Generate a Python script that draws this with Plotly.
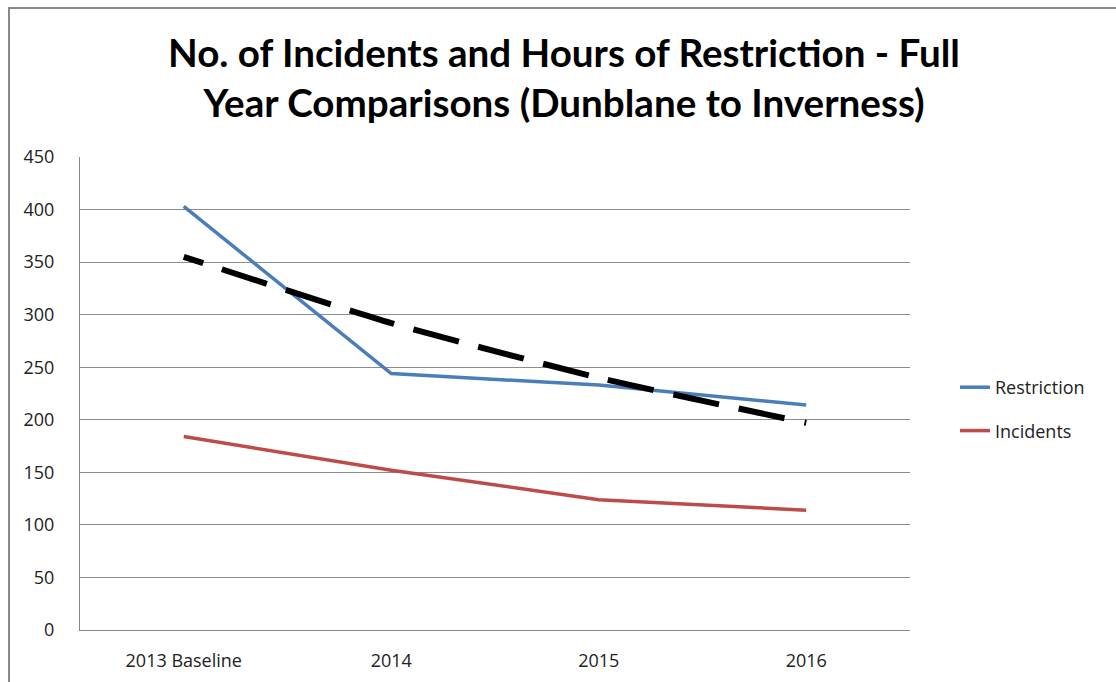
import plotly.graph_objects as go

categories = ["2013 Baseline", "2014", "2015", "2016"]
restriction = [403, 244, 233, 214]
incidents = [184, 152, 124, 114]
trend_restriction = [355, 292, 240, 197]
y_ticks = [0, 50, 100, 150, 200, 250, 300, 350, 400, 450]

W, H = 1116, 682
L, R, T, B = 80, 206, 157, 52
pw, ph = W - L - R, H - T - B

def px_x(p):
    return (p - L) / pw

def px_y(p):
    return (H - B - p) / ph

title_font = "Lato, sans-serif"
body_font = "'Open Sans', 'Noto Sans', sans-serif"

fig = go.Figure()

dash_list = ["20px", "20px"] + ["47px", "20px"] * 9 + ["3px", "40px"]
fig.add_trace(go.Scatter(
    x=categories, y=restriction, name="Restriction", mode="lines",
    line=dict(color="#4A7EBB", width=3.5), legendgroup="a",
))
fig.add_trace(go.Scatter(
    x=categories, y=incidents, name="Incidents", mode="lines",
    line=dict(color="#BE4B48", width=3.5), legendgroup="b",
))
fig.add_trace(go.Scatter(
    x=categories, y=trend_restriction, name="Expon. (Restriction)", mode="lines",
    line=dict(color="#000000", width=6, dash=",".join(dash_list), shape="spline", smoothing=0.6),
    showlegend=False,
))

fig.update_layout(
    width=W, height=H,
    margin=dict(l=L, r=R, t=T, b=B, autoexpand=False),
    paper_bgcolor="white", plot_bgcolor="white",
    title=dict(
        text="<b>No. of Incidents and Hours of Restriction - Full<br>Year Comparisons (Dunblane to Inverness)</b>",
        x=px_x(564), xref="paper", xanchor="center",
        y=1 - 67 / H, yref="container", yanchor="middle",
        font=dict(family=title_font, size=38.6, color="#000000"),
    ),
    showlegend=True,
    legend=dict(
        x=px_x(955), y=px_y(409), xanchor="left", yanchor="middle",
        font=dict(family=body_font, size=18, color="#222222"),
        bgcolor="rgba(0,0,0,0)", tracegroupgap=17, itemwidth=30,
    ),
    xaxis=dict(
        type="category", categoryorder="array", categoryarray=categories,
        range=[-0.5, 3.5], showgrid=False, showline=True, linecolor="#868686", linewidth=1,
        ticks="", tickfont=dict(family=body_font, size=18, color="#222222"),
        ticklabelstandoff=14, zeroline=False,
    ),
    yaxis=dict(
        range=[0, 450], tickvals=y_ticks, showgrid=True, gridcolor="#8C8C8C", gridwidth=1,
        showline=True, linecolor="#868686", linewidth=1, ticks="", zeroline=False,
        tickfont=dict(family=body_font, size=18, color="#222222"),
        ticklabelstandoff=21,
    ),
    shapes=[
        dict(type="rect", xref="paper", yref="paper",
             x0=px_x(9), x1=px_x(1130), y0=px_y(700), y1=px_y(8),
             line=dict(color="#898989", width=2), fillcolor="rgba(0,0,0,0)", layer="below"),
    ],
)

fig.write_html(
    "out.html",
    config={"displayModeBar": False},
    post_script="document.body.style.margin='0';document.body.style.overflow='hidden';",
)
